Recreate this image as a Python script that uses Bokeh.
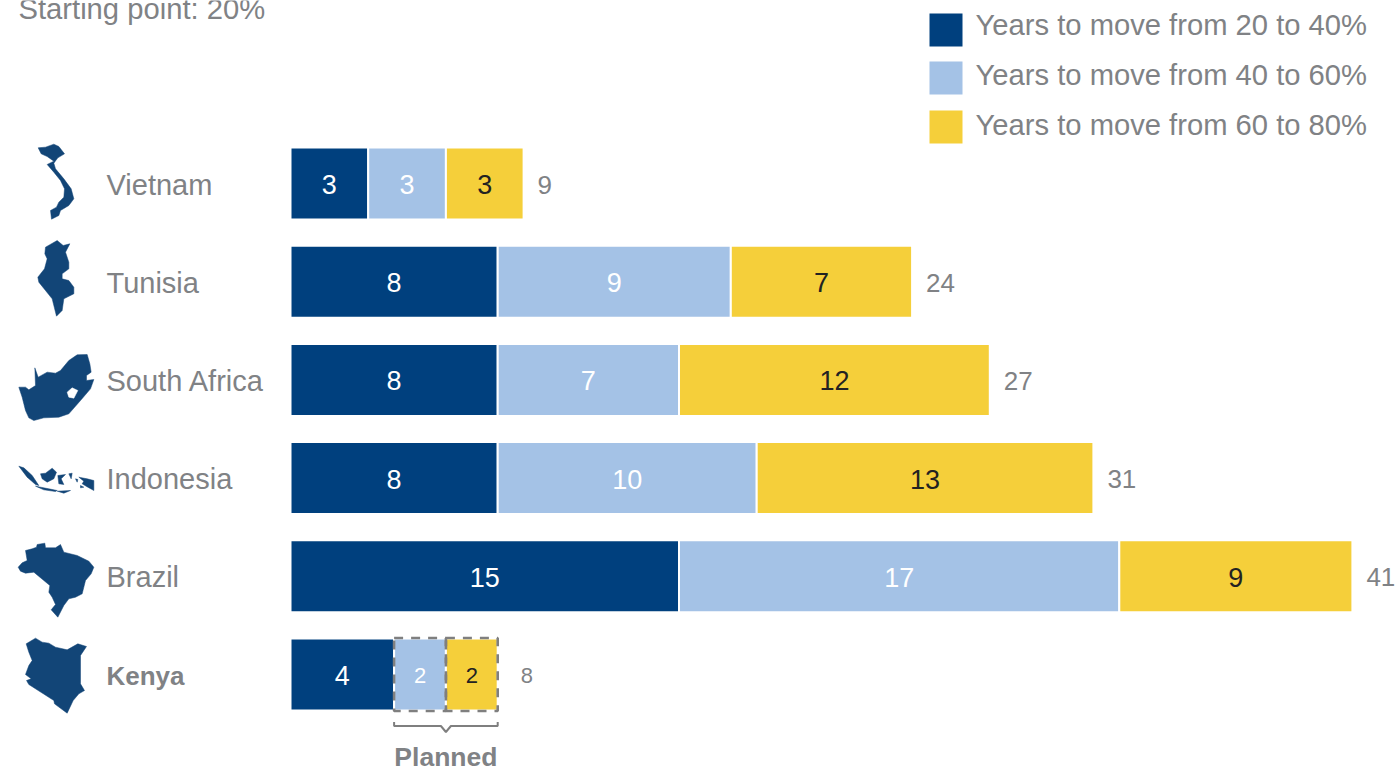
from bokeh.core.properties import field, value
from bokeh.embed import file_html
from bokeh.models import ColumnDataSource, Range1d
from bokeh.plotting import figure
from bokeh.resources import INLINE

# Years needed to climb each band of the access ladder, by country
countries = ["Vietnam", "Tunisia", "South Africa", "Indonesia", "Brazil", "Kenya"]
years_20_to_40 = [3, 8, 8, 8, 15, 4]
years_40_to_60 = [3, 9, 7, 10, 17, 2]
years_60_to_80 = [3, 7, 12, 13, 9, 2]
total_years = [9, 24, 27, 31, 41, 8]
series_labels = [
    "Years to move from 20 to 40%",
    "Years to move from 40 to 60%",
    "Years to move from 60 to 80%",
]

DARK_BLUE = "#00407E"
LIGHT_BLUE = "#A4C2E6"
YELLOW = "#F5CF3A"
GREY = "#808285"
MAP_BLUE = "#124577"
FONT = value("Liberation Sans")

# Page layout: one year of bar length and one row of the chart, in pixels
PX_PER_YEAR = 25.9
PX_PER_ROW = 98.2
ORIGIN_X = 290
FIRST_ROW_Y = 183
WIDTH, HEIGHT = 1396, 771


def X(px):
    return (px - ORIGIN_X) / PX_PER_YEAR


def Y(py):
    return (py - FIRST_ROW_Y) / PX_PER_ROW


p = figure(
    width=WIDTH, height=HEIGHT, output_backend="svg", toolbar_location=None,
    x_range=Range1d(X(0), X(WIDTH)), y_range=Range1d(Y(HEIGHT), Y(0)),
    x_axis_location=None, y_axis_location=None, min_border=0,
    outline_line_color=None, background_fill_color="white",
)
p.grid.visible = False

rows = list(range(len(countries)))
source = ColumnDataSource(dict(
    row=rows, a=years_20_to_40, b=years_40_to_60, c=years_60_to_80,
    total=total_years,
))

bar_height = 72 / PX_PER_ROW
p.hbar_stack(
    ["a", "b", "c"], y="row", height=bar_height, source=source,
    color=[DARK_BLUE, LIGHT_BLUE, YELLOW], line_color="white", line_width=2,
)

# Value labels centred in every segment; the Kenya row is set a size smaller
seg_x, seg_y, seg_text, seg_color, seg_size = [], [], [], [], []
for i, row in enumerate(rows):
    left = 0
    for vals, color in ((years_20_to_40, "white"), (years_40_to_60, "white"), (years_60_to_80, "#222222")):
        v = vals[i]
        seg_x.append(left + v / 2)
        seg_y.append(row)
        seg_text.append(str(v))
        seg_color.append(color)
        seg_size.append("22px" if countries[i] == "Kenya" and vals is not years_20_to_40 else "27px")
        left += v
p.text(
    x="x", y="y", text="t", text_color="c", text_font_size=field("s"), text_font=FONT,
    text_align="center", text_baseline="middle", y_offset=1,
    source=ColumnDataSource(dict(x=seg_x, y=seg_y, t=seg_text, c=seg_color, s=seg_size)),
)

# Totals just past the end of each bar
p.text(
    x="x", y="y", text="t", text_color=GREY, text_font_size=field("s"), text_font=FONT,
    text_align="left", text_baseline="middle", x_offset=field("o"), y_offset=1,
    source=ColumnDataSource(dict(
        x=total_years, y=rows, t=[str(v) for v in total_years],
        s=["22px" if c == "Kenya" else "26px" for c in countries],
        o=[23 if c == "Kenya" else 14 for c in countries],
    )),
)

# Country names
for i, name in enumerate(countries):
    bold = name == "Kenya"
    p.text(
        x=[X(106)], y=[i], text=[name], text_color=GREY, text_font=FONT,
        text_font_size="26px" if bold else "29px",
        text_font_style="bold" if bold else "normal",
        text_align="left", text_baseline="middle", y_offset=1,
    )

p.text(
    x=[X(18)], y=[Y(8)], text=["Starting point: 20%"], text_color=GREY, text_font=FONT,
    text_font_size="29.2px", text_align="left", text_baseline="alphabetic",
)

# Dashed frames and bracket around Kenya's planned segments
kenya = countries.index("Kenya")
start = years_20_to_40[kenya]
mid = start + years_40_to_60[kenya]
end = mid + years_60_to_80[kenya]
frame_half = 36.5 / PX_PER_ROW
p.quad(
    left=[start, mid], right=[mid, end],
    top=[kenya - frame_half] * 2, bottom=[kenya + frame_half] * 2,
    fill_color=None, line_color="#7F7F7F", line_width=2.6, line_dash="9 8",
)
centre = (start + end) / 2
bracket_top = kenya + 47.5 / PX_PER_ROW
bracket_bar = kenya + 51.5 / PX_PER_ROW
bracket_tip = kenya + 57.5 / PX_PER_ROW
notch = 5 / PX_PER_YEAR
p.line(
    x=[start, start, centre - notch, centre, centre + notch, end, end],
    y=[bracket_top, bracket_bar, bracket_bar, bracket_tip, bracket_bar, bracket_bar, bracket_top],
    line_color="#7F7F7F", line_width=2,
)
p.text(
    x=[centre], y=[Y(756.5)], text=["Planned"], text_color=GREY, text_font=FONT,
    text_font_size="26.5px", text_font_style="bold",
    text_align="center", text_baseline="middle",
)

# Country silhouettes, traced at triple size from each icon block's top-left corner
VIETNAM = [(113,52),(135,50),(160,41),(175,48),(192,70),(172,82),(160,98),(165,115),(190,145),(212,175),(220,205),(205,225),(180,240),(175,255),(153,266),(150,240),(168,230),(175,215),(190,200),(192,175),(180,150),(160,125),(140,102),(160,92),(140,78),(122,70)]
TUNISIA = [(135,350),(170,330),(188,345),(208,340),(195,365),(205,395),(205,415),(185,430),(185,445),(205,450),(220,470),(220,490),(190,505),(185,540),(168,557),(155,505),(135,480),(115,455),(112,440),(132,415),(140,385),(133,370)]
SOUTH_AFRICA = [(55,170),(75,170),(85,178),(105,165),(103,112),(113,140),(140,125),(165,128),(180,120),(205,90),(230,73),(260,72),(268,100),(272,125),(258,135),(258,150),(280,147),(270,175),(240,210),(205,250),(175,260),(130,262),(100,270),(85,262),(75,240),(65,200)]
LESOTHO = [(200,185),(215,172),(232,180),(220,203),(205,200)]
INDONESIA = [
    [(55,407),(70,412),(95,435),(115,465),(105,462),(80,440)],
    [(105,467),(145,475),(170,480),(165,483),(130,478)],
    [(120,430),(135,428),(155,413),(168,425),(160,445),(140,455),(125,445)],
    [(172,435),(195,432),(182,445),(190,462),(175,460)],
    [(235,440),(260,445),(280,450),(280,480),(262,470),(245,460),(250,452)],
    [(170,482),(210,480),(190,488)],
    [(205,430),(215,428),(212,445)],
    [(240,465),(250,470),(240,472)],
    [(225,445),(232,447),(230,455)],
]
BRAZIL = [(53,110),(65,97),(80,90),(75,60),(95,55),(108,50),(110,42),(133,38),(135,52),(165,52),(180,42),(190,65),(230,75),(265,92),(280,110),(272,130),(255,150),(245,190),(225,200),(205,205),(190,225),(172,260),(152,238),(165,222),(155,200),(145,185),(148,165),(130,150),(100,125),(75,128),(60,122)]
KENYA = [(77,340),(105,323),(125,335),(145,338),(165,350),(200,358),(232,340),(258,348),(240,375),(240,460),(252,480),(235,490),(218,510),(200,548),(162,520),(160,510),(85,462),(78,450),(92,445),(75,432),(85,405),(95,390),(85,365)]


def silhouette(outline, block_top, color=MAP_BLUE):
    p.patch(
        x=[X(a / 3) for a, _ in outline],
        y=[Y(block_top + b / 3) for _, b in outline],
        fill_color=color, line_color=color, line_width=0.5,
    )


silhouette(VIETNAM, 130)
silhouette(TUNISIA, 130)
silhouette(SOUTH_AFRICA, 330)
silhouette(LESOTHO, 330, "white")
for island in INDONESIA:
    silhouette(island, 330)
silhouette(BRAZIL, 530)
silhouette(KENYA, 530)

# Colour key at the top right
key_colors = [DARK_BLUE, LIGHT_BLUE, YELLOW]
key_tops = [13, 61, 110]
key_text_centres = [24, 74, 124]
p.quad(
    left=[X(929)] * 3, right=[X(962)] * 3,
    top=[Y(t) for t in key_tops], bottom=[Y(t + 33) for t in key_tops],
    fill_color=key_colors, line_color=None,
)
p.text(
    x=[X(975)] * 3, y=[Y(t) for t in key_text_centres], text=series_labels,
    text_color=GREY, text_font=FONT, text_font_size="29.2px",
    text_align="left", text_baseline="middle",
)

open("out.html", "w").write(file_html(p, INLINE))
